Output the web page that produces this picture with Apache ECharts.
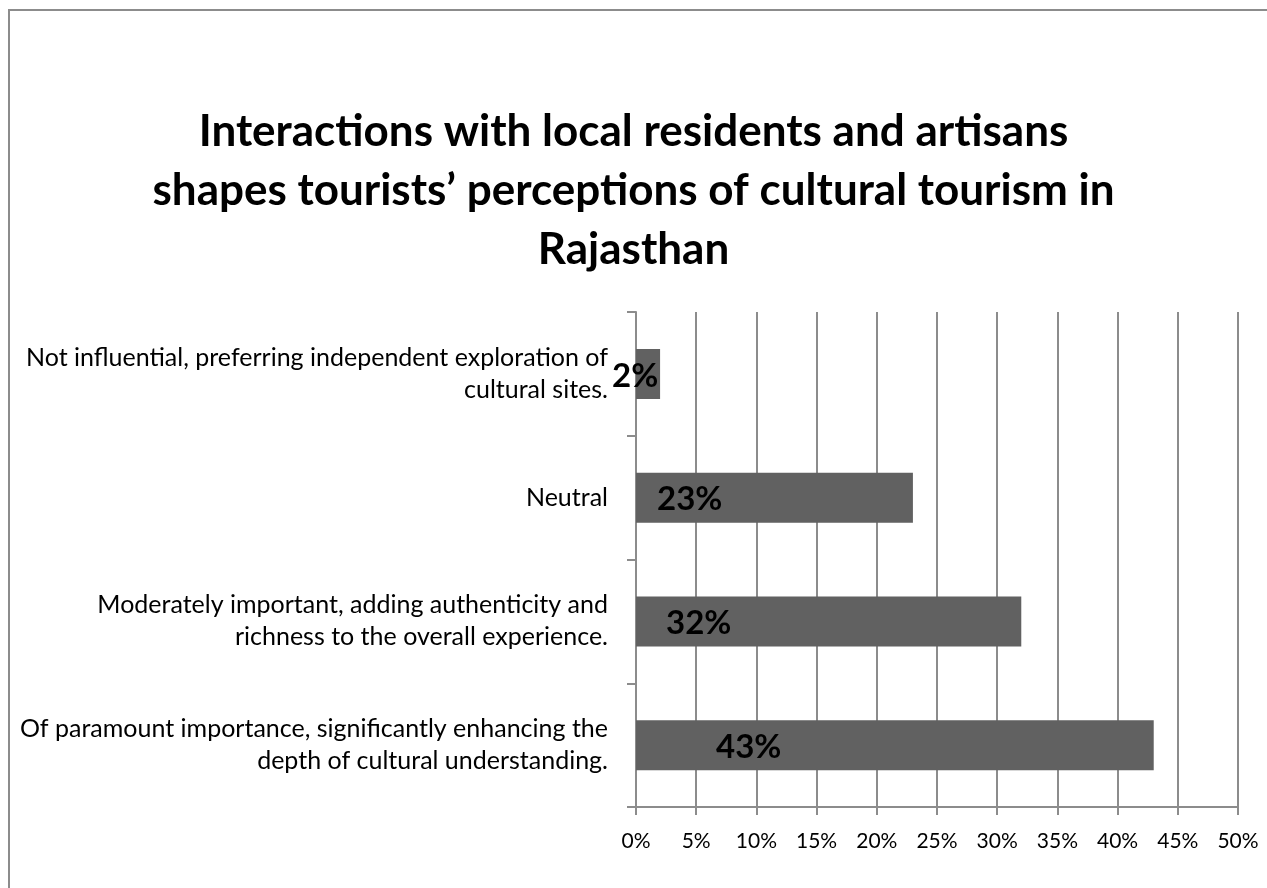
<!DOCTYPE html>
<html>
<head>
<meta charset="utf-8">
<script src="https://cdn.jsdelivr.net/npm/echarts@6/dist/echarts.min.js"></script>
<style>
  html, body { margin: 0; padding: 0; background: #fff; }
  .frame {
    position: absolute;
    left: 8px;
    top: 9px;
    width: 1300px;
    height: 920px;
    border: 2px solid #8c8c8c;
  }
  #chart {
    position: absolute;
    left: 0;
    top: 0;
    width: 1267px;
    height: 888px;
  }
</style>
</head>
<body>
<div class="frame"></div>
<div id="chart"></div>
<script>
// bottom to top, as the category axis draws them
const categories = [
  'Of paramount importance, significantly enhancing the\ndepth of cultural understanding.',
  'Moderately important, adding authenticity and\nrichness to the overall experience.',
  'Neutral',
  'Not influential, preferring independent exploration of\ncultural sites.'
]
const values = [43, 32, 23, 2]
const titleText = 'Interactions with local residents and artisans\nshapes tourists\u2019 perceptions of cultural tourism in\nRajasthan'

// where each data label sits, measured from the bar start
const labelShift = [80, 30, 21, -24]

const grey = '#8c8c8c'

const chart = echarts.init(document.getElementById('chart'))
chart.setOption({
  animation: false,
  title: {
    text: titleText,
    left: 'center',
    top: 97,
    textStyle: {
      fontFamily: 'Lato',
      fontWeight: 'bold',
      fontSize: 44,
      lineHeight: 59,
      color: '#000'
    }
  },
  grid: {
    left: 636,
    right: 29,
    top: 312,
    bottom: 81
  },
  xAxis: {
    type: 'value',
    min: 0,
    max: 50,
    interval: 5,
    axisLine: { show: true, lineStyle: { color: grey, width: 2 } },
    axisTick: { show: true, length: 8, lineStyle: { color: grey, width: 2 } },
    splitLine: { show: true, lineStyle: { color: grey, width: 2 } },
    axisLabel: {
      formatter: '{value}%',
      margin: 24,
      fontFamily: 'Lato',
      fontSize: 21,
      color: '#000'
    }
  },
  yAxis: {
    type: 'category',
    data: categories,
    axisLine: { show: true, lineStyle: { color: grey, width: 2 } },
    axisTick: { show: true, length: 9, lineStyle: { color: grey, width: 2 } },
    axisLabel: {
      margin: 28,
      fontFamily: 'Lato',
      fontSize: 25,
      lineHeight: 32,
      color: '#000',
      align: 'right'
    }
  },
  series: [
    {
      type: 'bar',
      barWidth: 50,
      itemStyle: { color: '#616161' },
      data: values.map((v, i) => ({
        value: v,
        label: { offset: [labelShift[i], 2] }
      })),
      label: {
        show: true,
        position: 'insideLeft',
        distance: 0,
        formatter: '{c}%',
        fontFamily: 'Lato',
        fontWeight: 'bold',
        fontSize: 33,
        color: '#000'
      }
    }
  ]
})
</script>
</body>
</html>
